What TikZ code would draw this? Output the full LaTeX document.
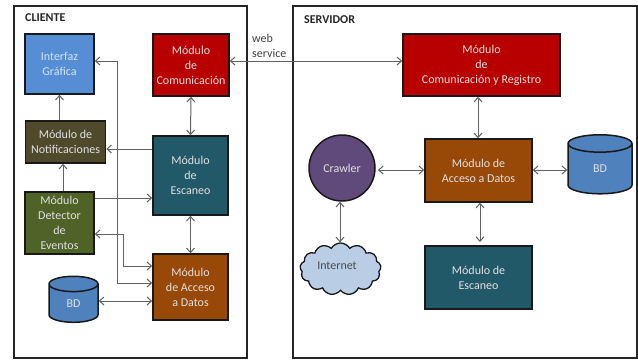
\documentclass[tikz,border=0pt]{standalone}
\usepackage{fontspec}
\setmainfont{Carlito}
\usetikzlibrary{arrows.meta,shapes.geometric,shapes.symbols}
\tikzset{
  frame/.style={draw=black!85,line width=1.5pt,fill=white,rectangle,inner sep=0pt},
  modbox/.style={draw=black!90,line width=1.5pt,rectangle,inner sep=0pt,align=center,font=\fontsize{12}{15}\selectfont,text=white!88!black},
  title/.style={font=\fontsize{12}{14}\selectfont\bfseries,text=black!85,inner sep=0pt},
  dbcyl/.style={cylinder,shape border rotate=90,draw=black!90,line width=1.5pt,inner sep=0pt,
    cylinder uses custom fill,cylinder end fill=dbblue,cylinder body fill=dbblue,font=\fontsize{12}{15}\selectfont,text=white!88!black},
  conn/.style={draw=black!62,line width=1pt},
  one/.style={conn,-{Straight Barb[length=4.5pt,width=8pt]}},
  two/.style={conn,{Straight Barb[length=4.5pt,width=8pt]}-{Straight Barb[length=4.5pt,width=8pt]}}
}
\definecolor{ifblue}{HTML}{558ED5}
\definecolor{comred}{HTML}{B80000}
\definecolor{notif}{HTML}{4F4A2C}
\definecolor{scan}{HTML}{215968}
\definecolor{detect}{HTML}{4F6228}
\definecolor{data}{HTML}{984807}
\definecolor{dbblue}{HTML}{4F81BD}
\definecolor{crawl}{HTML}{604A7B}
\definecolor{cloudc}{HTML}{B9CDE5}
\begin{document}
\begin{tikzpicture}[x=1pt,y=-1pt]
\useasboundingbox (0,0) rectangle (638,360);
\fill[white] (0,0) rectangle (638,360);
% frames
\node[frame,minimum width=233pt,minimum height=352pt] (client) at (130.5,182) {};
\node[frame,minimum width=344pt,minimum height=352pt] (server) at (465,182) {};
\node[title,anchor=west] (clienttitle) at (25,18) {CLIENTE};
\node[title,anchor=west] (servertitle) at (304,20) {SERVIDOR};
% client modules
\node[modbox,fill=ifblue,minimum width=69pt,minimum height=60pt,text=white!75!ifblue] (iface) at (59.5,64) {Interfaz\\Gráfica};
\node[modbox,fill=comred,minimum width=76pt,minimum height=62pt] (ccom) at (191,65) {Módulo\\de\\Comunicación};
\node[modbox,fill=notif,minimum width=80pt,minimum height=42pt] (cnotif) at (65.5,142) {Módulo de\\Notificaciones};
\node[modbox,fill=scan,minimum width=75pt,minimum height=79pt] (cscan) at (190.5,175.5) {Módulo\\de\\Escaneo};
\node[modbox,fill=detect,minimum width=69pt,minimum height=62pt] (cdetect) at (59.5,223) {Módulo\\Detector\\de\\Eventos};
\node[modbox,fill=data,minimum width=75pt,minimum height=66pt] (cdata) at (190.5,287) {Módulo\\de Acceso\\a Datos};
\node[dbcyl,aspect=1.1,minimum width=49pt,minimum height=46pt] (cdb) at (73.5,303.5) {\raisebox{-4pt}{BD}};
% server modules
\node[modbox,fill=comred,minimum width=157pt,minimum height=62pt] (scom) at (481.5,65) {Módulo\\de\\Comunicación y Registro};
\node[modbox,fill=data,minimum width=107pt,minimum height=63pt] (sdata) at (478.5,170.5) {Módulo de\\Acceso a Datos};
\node[modbox,fill=scan,minimum width=107pt,minimum height=63pt] (sscan) at (478.5,277.5) {Módulo de\\Escaneo};
\node[dbcyl,aspect=1.25,minimum width=64pt,minimum height=59pt] (sdb) at (600,169) {\raisebox{-3pt}{BD}};
\node[modbox,circle,fill=crawl,minimum size=66pt] (crawler) at (342,168) {Crawler};
\node[cloud,cloud puffs=13,cloud puff arc=120,aspect=1.6,draw=black!90,line width=1.3pt,fill=cloudc,inner sep=0pt,minimum width=81pt,minimum height=52pt] (inet) at (340.5,269) {};
\node[font=\fontsize{12}{15}\selectfont,text=black!70,inner sep=0pt] (inetlabel) at (337,266) {Internet};
% web service label
\node[anchor=west,align=left,inner sep=0pt,font=\fontsize{12}{15}\selectfont,text=black!75] (ws) at (252,45.5) {web\\service};
% routing helpers
\coordinate (busA) at (117.5,61);
\coordinate (busAb) at (117.5,283);
\coordinate (busB) at (123,234);
\coordinate (busBb) at (123,266);
% client connectors
\draw[one] (cnotif.north -| iface.south) -- (iface.south);
\draw[one] (cdetect.north -| 63,0) -- (cnotif.south -| 63,0);
\draw[one] (cscan.west |- 0,149) -- (cnotif.east |- 0,149);
\draw[one] (cdetect.east |- 0,198) -- (cscan.west |- 0,198);
\draw[two] (ccom.south) -- (cscan.north);
\draw[two] (cscan.south) -- (cdata.north);
\draw[two] (iface.east |- busA) -- (busA) -- (busAb) -- (cdata.west |- busAb);
\draw[two] (cdetect.east |- busB) -- (busB) -- (busBb) -- (cdata.west |- busBb);
\draw[two] (cdb.east |- 0,301) -- (cdata.west |- 0,301);
% web service
\draw[two] (ccom.east |- 0,61) -- (scom.west |- 0,61);
% server connectors
\draw[two] (scom.south -| 478,0) -- (sdata.north -| 478,0);
\draw[two] (sdata.south -| 480,0) -- (480,242);
\draw[two] (378,170) -- (sdata.west |- 0,170);
\draw[two] (sdata.east |- 0,170) -- (sdb.west |- 0,170);
\draw[two] (crawler.south -| 340,0) -- (inet.north -| 340,0);
\end{tikzpicture}
\end{document}
